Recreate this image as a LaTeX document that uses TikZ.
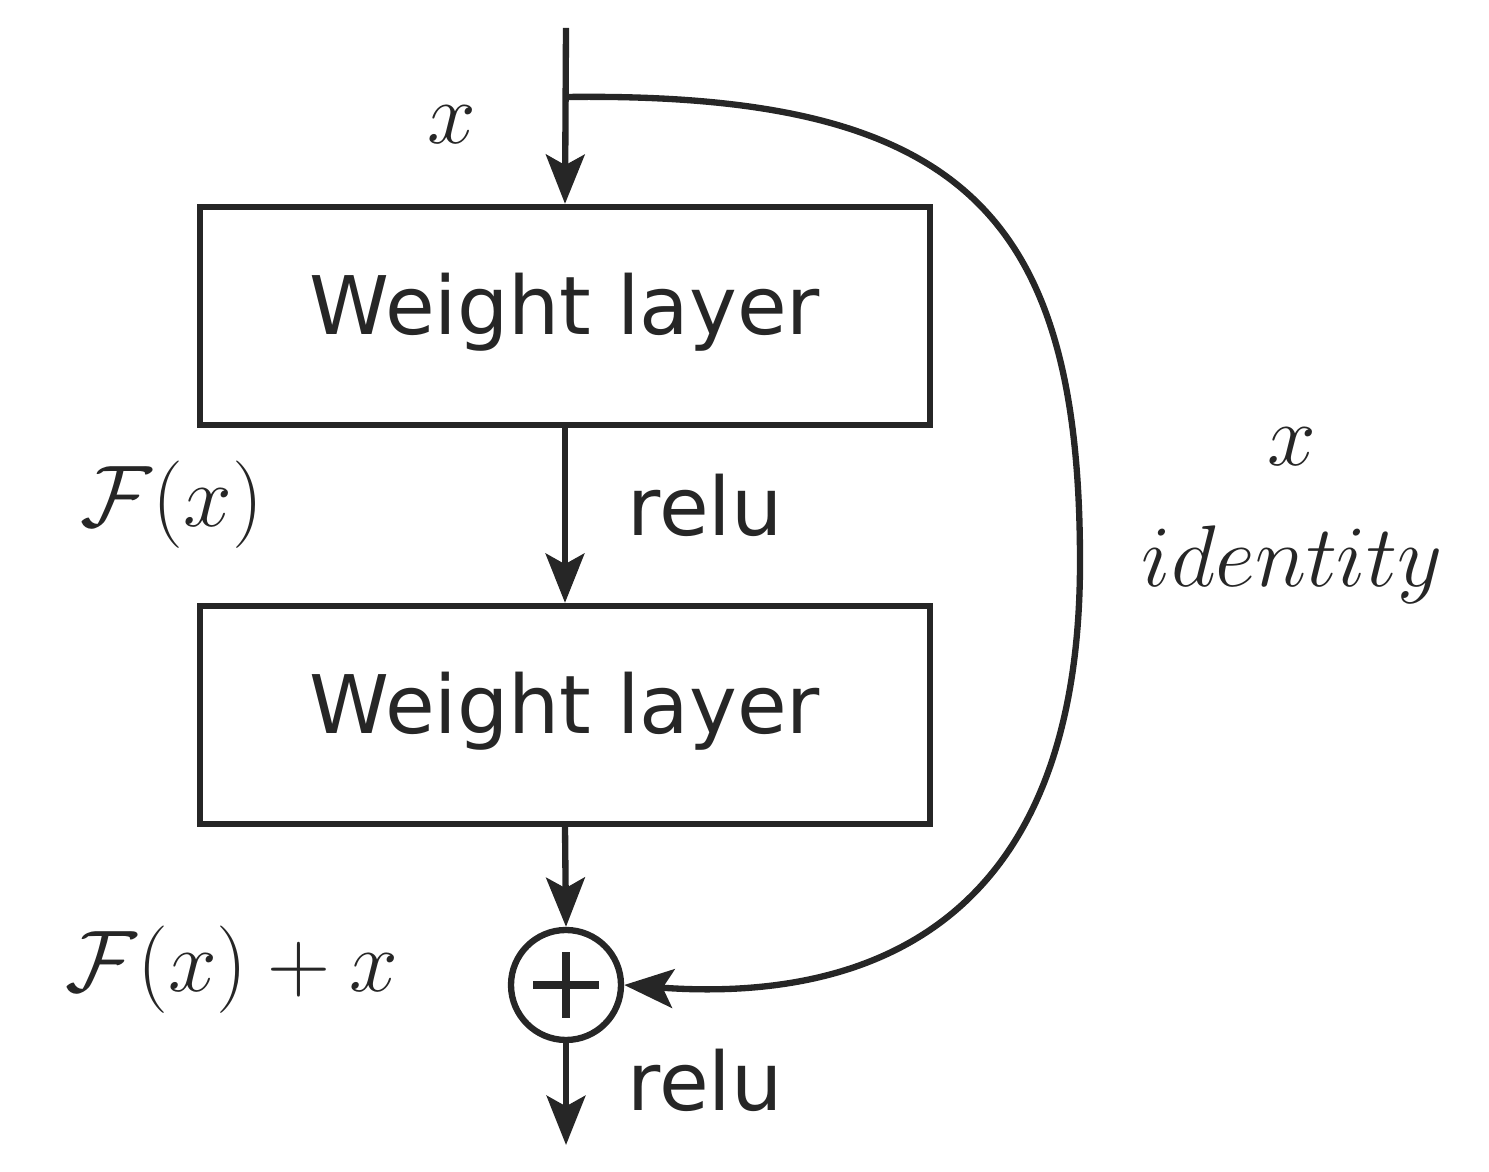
\documentclass[tikz,border=0pt]{standalone}
\usepackage{fontspec}
\setmainfont{DejaVu Sans}
\usetikzlibrary{arrows.meta}
\begin{document}
\begin{tikzpicture}[line width=1.8pt, color={black!85},
  layer/.style={draw, minimum width=7.3cm, minimum height=2.18cm, inner sep=0pt, text depth=0.25cm},
  lbl/.style={font=\fontsize{23}{27}\selectfont},
  mth/.style={font=\fontsize{34}{38}\selectfont},
  arr/.style={-{Stealth[length=14pt,width=11pt,inset=3pt]}}]
\useasboundingbox (0,0) rectangle (14.89,11.72);

\coordinate (in) at (5.66,11.44);
\coordinate (split) at (5.66,10.75);
\node[layer, lbl] (w1) at (5.65,8.56) {Weight layer};
\node[layer, lbl] (w2) at (5.65,4.57) {Weight layer};
\node[draw, circle, minimum size=1.1cm, inner sep=0pt] (add) at (5.66,1.87) {};
\draw[line width=2.2pt] ([yshift=-0.33cm]add.center) -- ([yshift=0.33cm]add.center)
  ([xshift=-0.33cm]add.center) -- ([xshift=0.33cm]add.center);
\coordinate (out) at (5.66,0.27);
\coordinate (far) at (10.8,6.1);

\draw[arr] (in) -- (w1.north);
\draw[arr] (w1.south) -- (w2.north);
\draw[arr] (w2.south) -- (add.north);
\draw[arr] (add.south) -- (out);
\draw[arr] (split) .. controls (9.6,10.8) and (10.8,9.6) .. (far)
  .. controls (10.8,2.4) and (8.6,1.7) .. (add.east);

\node[mth] (lx) at (4.52,10.47) {$x$};
\node[mth] (lf) at (1.72,6.67) {$\mathcal{F}(x)$};
\node[lbl] (r1) at (7.05,6.67) {relu};
\node[mth] (lfx) at (2.32,2.02) {$\mathcal{F}(x) + x$};
\node[lbl] (r2) at (7.05,0.92) {relu};
\node[mth] (ix) at (12.92,7.25) {$x$};
\node[mth] (id) at (12.92,6.07) {$identity$};
\end{tikzpicture}
\end{document}
